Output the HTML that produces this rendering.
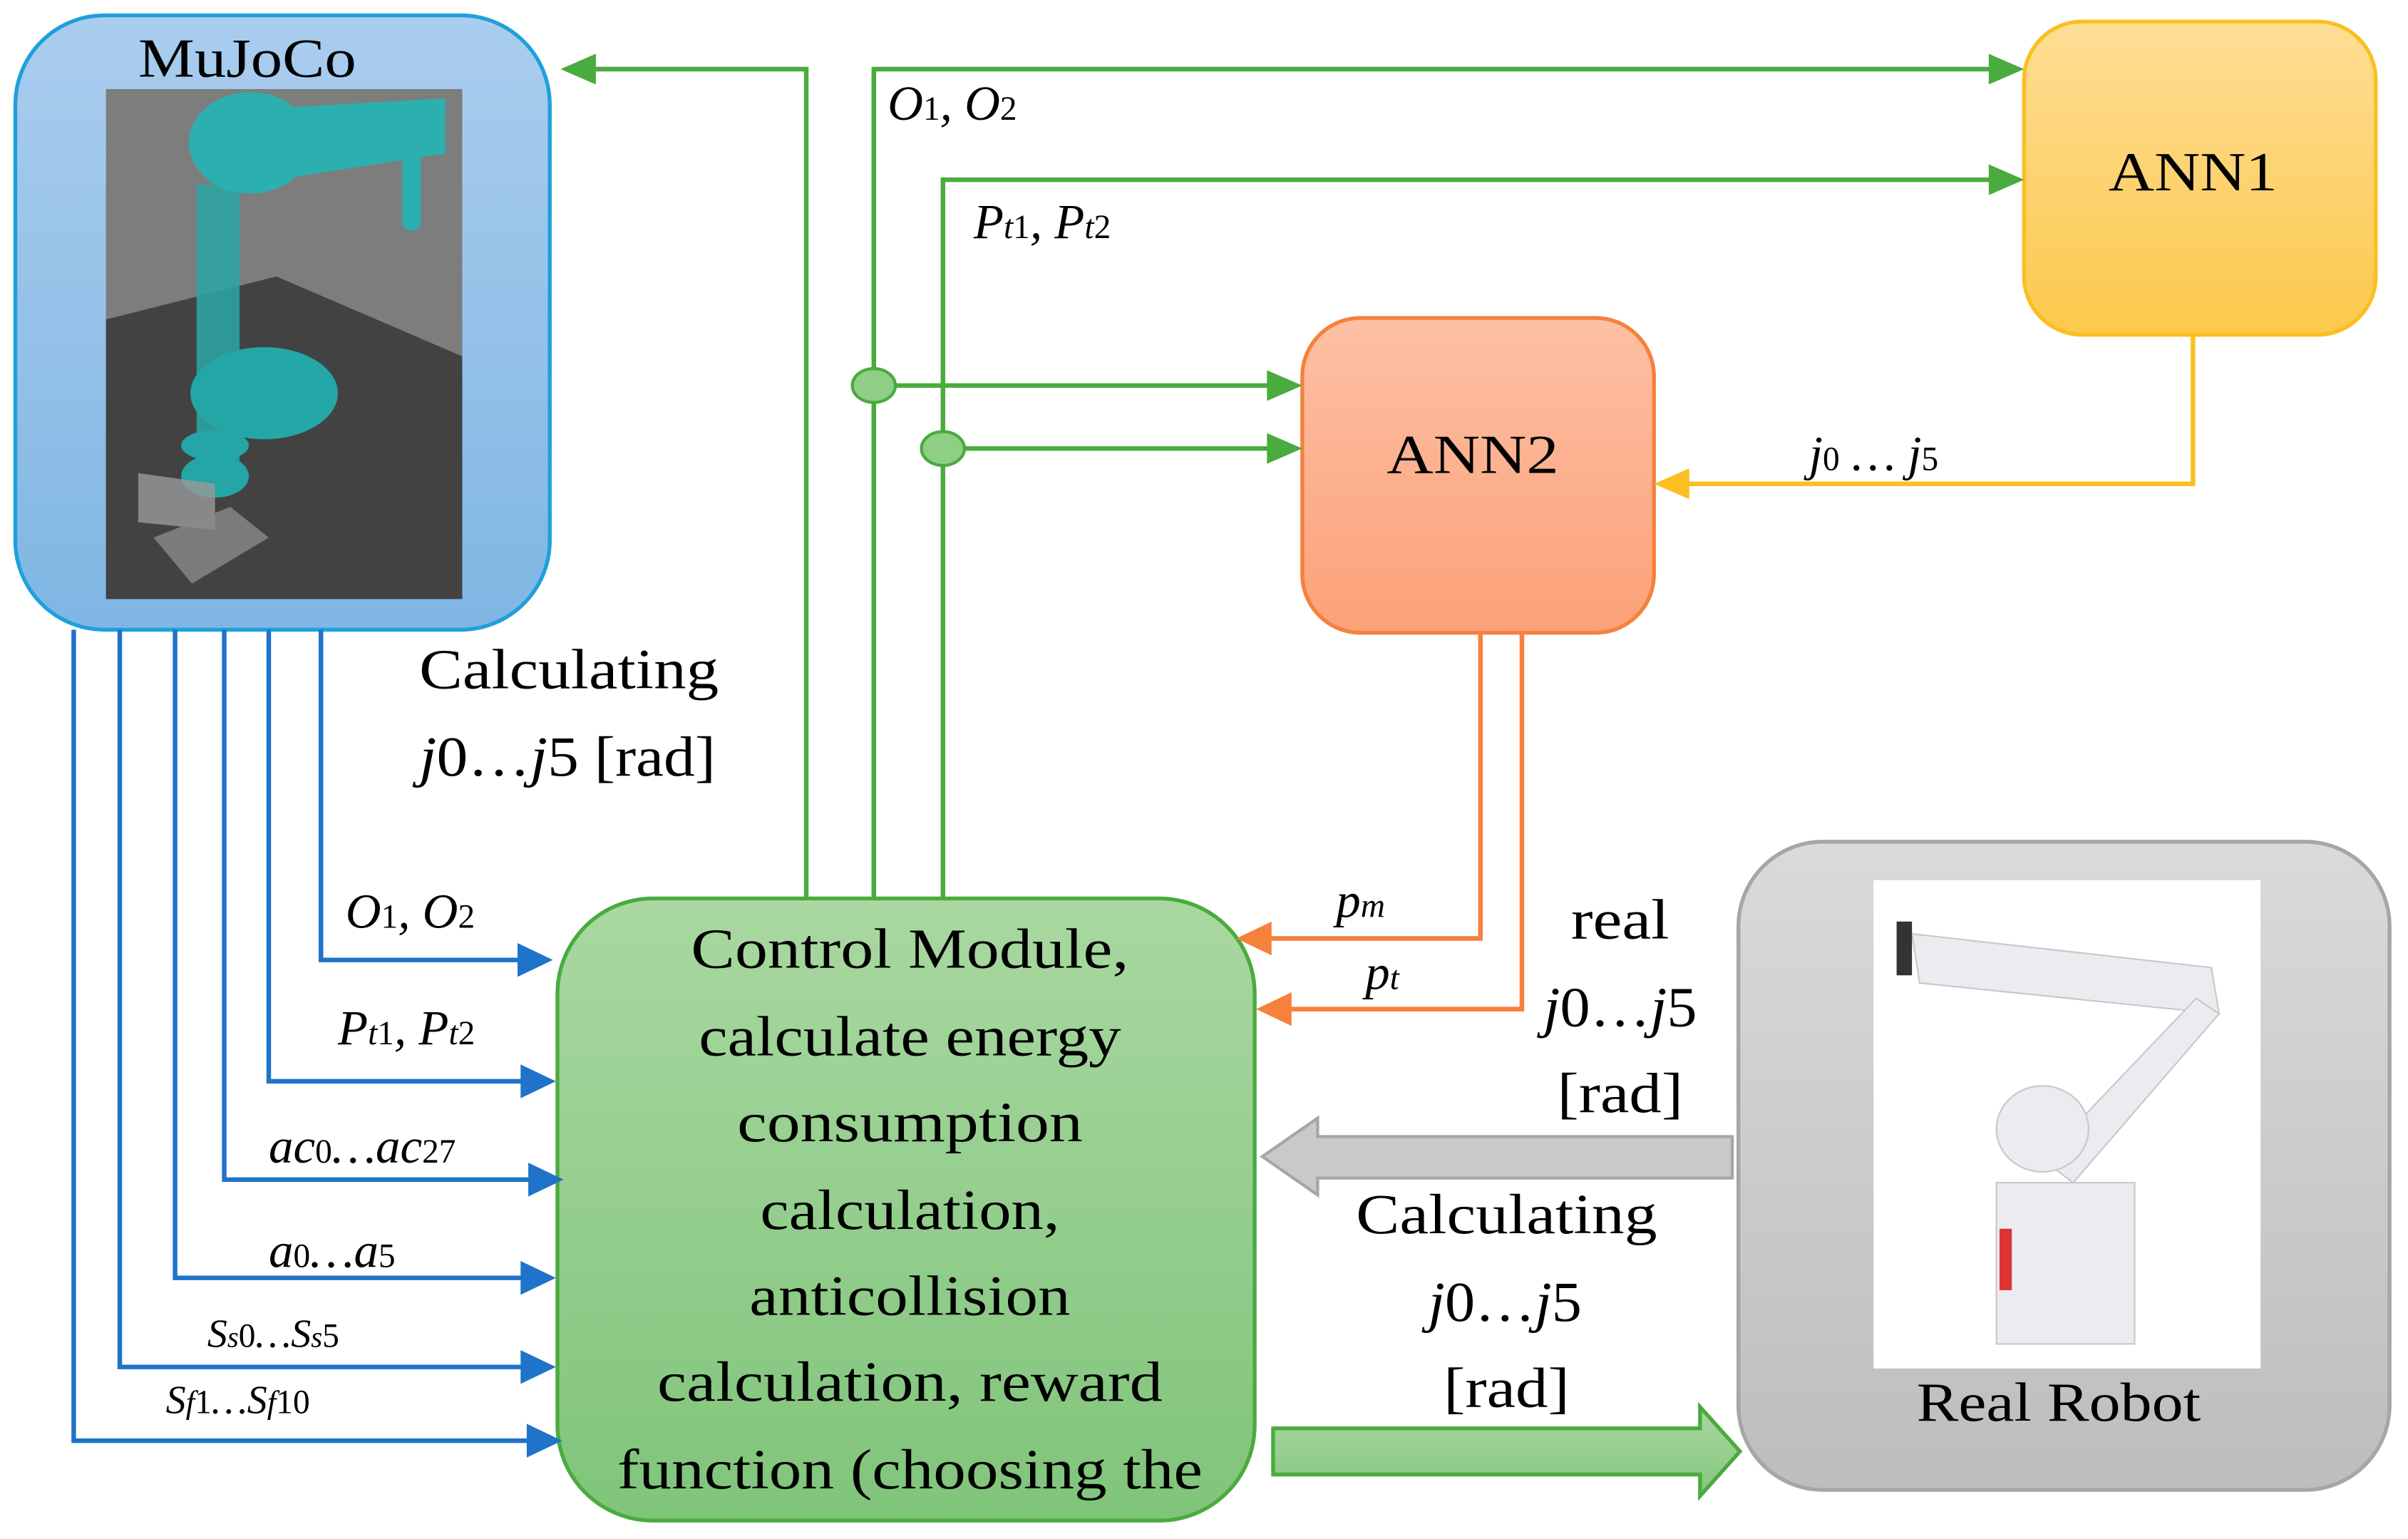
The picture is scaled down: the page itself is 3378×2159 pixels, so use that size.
<!DOCTYPE html>
<html><head><meta charset="utf-8"><style>
html,body{margin:0;padding:0;background:#fff;}
svg{display:block;}
text{font-family:"Liberation Serif",serif;fill:#000;}
</style></head><body>
<svg width="3378" height="2159" viewBox="0 0 1568 1002" preserveAspectRatio="none" xmlns="http://www.w3.org/2000/svg">
<defs>
<linearGradient id="gb" x1="0" y1="0" x2="0" y2="1"><stop offset="0" stop-color="#aacdee"/><stop offset="1" stop-color="#7fb6e3"/></linearGradient>
<linearGradient id="gy" x1="0" y1="0" x2="0" y2="1"><stop offset="0" stop-color="#fedd95"/><stop offset="1" stop-color="#fcc94c"/></linearGradient>
<linearGradient id="go" x1="0" y1="0" x2="0" y2="1"><stop offset="0" stop-color="#fdc0a4"/><stop offset="1" stop-color="#fca179"/></linearGradient>
<linearGradient id="gg" x1="0" y1="0" x2="0" y2="1"><stop offset="0" stop-color="#a9d8a1"/><stop offset="1" stop-color="#80c47a"/></linearGradient>
<linearGradient id="gr" x1="0" y1="0" x2="0" y2="1"><stop offset="0" stop-color="#dadada"/><stop offset="1" stop-color="#bdbdbd"/></linearGradient>
<linearGradient id="ga" x1="0" y1="0" x2="0" y2="1"><stop offset="0" stop-color="#a8d8a0"/><stop offset="1" stop-color="#86c67e"/></linearGradient>
</defs>

<rect x="10" y="10" width="348" height="400" rx="58" fill="url(#gb)" stroke="#1fa0dc" stroke-width="2.5"/>
<text x="90" y="50" font-size="36" textLength="142" lengthAdjust="spacingAndGlyphs">MuJoCo</text>
<rect x="69" y="58" width="232" height="332" fill="#7d7d7d"/>
<polygon points="69,208 180,180 301,232 301,390 69,390" fill="#424242"/>
<g fill="#1fb8b8" opacity="0.85">
<rect x="128" y="120" width="28" height="200" fill="#2aa7a5"/>
<ellipse cx="163" cy="93" rx="40" ry="33"/>
<polygon points="150,72 290,64 290,100 160,120"/>
<rect x="262" y="95" width="12" height="55" rx="5"/>
<ellipse cx="172" cy="256" rx="48" ry="30"/>
<ellipse cx="140" cy="290" rx="22" ry="10"/>
<ellipse cx="140" cy="310" rx="22" ry="14"/>
</g>
<polygon points="90,308 140,315 140,345 90,340" fill="#9a9a9a" opacity="0.8"/>
<polygon points="100,350 150,330 175,350 125,380" fill="#8a8a8a" opacity="0.8"/>

<rect x="1318" y="14" width="229" height="204" rx="38" fill="url(#gy)" stroke="#fbbf22" stroke-width="2.5"/>
<text x="1373" y="124" font-size="36" textLength="110" lengthAdjust="spacingAndGlyphs">ANN1</text>
<rect x="848" y="207" width="229" height="205" rx="38" fill="url(#go)" stroke="#f5813c" stroke-width="2.5"/>
<text x="903" y="308" font-size="36" textLength="112" lengthAdjust="spacingAndGlyphs">ANN2</text>
<rect x="363" y="585" width="454" height="405" rx="62" fill="url(#gg)" stroke="#4aab3e" stroke-width="2.5"/>
<g font-size="37" lengthAdjust="spacingAndGlyphs">
<text x="450" y="630" textLength="285" lengthAdjust="spacingAndGlyphs">Control Module,</text>
<text x="455" y="687" textLength="275" lengthAdjust="spacingAndGlyphs">calculate energy</text>
<text x="480" y="743" textLength="225" lengthAdjust="spacingAndGlyphs">consumption</text>
<text x="495" y="800" textLength="195" lengthAdjust="spacingAndGlyphs">calculation,</text>
<text x="488" y="856" textLength="209" lengthAdjust="spacingAndGlyphs">anticollision</text>
<text x="428" y="912" textLength="329" lengthAdjust="spacingAndGlyphs">calculation, reward</text>
<text x="402" y="969" textLength="381" lengthAdjust="spacingAndGlyphs">function (choosing the</text>
</g>
<rect x="1132" y="548" width="424" height="422" rx="55" fill="url(#gr)" stroke="#a6a6a6" stroke-width="2.5"/>
<rect x="1220" y="573" width="252" height="318" fill="#fff"/>
<g fill="#ececf0" stroke="#c8c8cc" stroke-width="1">
<polygon points="1245,608 1440,630 1445,660 1250,640"/>
<polygon points="1330,755 1430,650 1445,660 1350,770"/>
<ellipse cx="1330" cy="735" rx="30" ry="28"/>
<rect x="1300" y="770" width="90" height="105"/>
</g>
<rect x="1235" y="600" width="10" height="35" fill="#333"/>
<rect x="1302" y="800" width="8" height="40" fill="#d33"/>
<text x="1248" y="925" font-size="36" textLength="185" lengthAdjust="spacingAndGlyphs">Real Robot</text>

<g stroke="#4aab3e" stroke-width="3" fill="none">
<polyline points="525,585 525,45 385,45"/>
<polyline points="569,585 569,45 1298,45"/>
<polyline points="614,585 614,117 1298,117"/>
<line x1="569" y1="251" x2="828" y2="251"/>
<line x1="614" y1="292" x2="828" y2="292"/>
</g>
<g fill="#4aab3e">
<polygon points="365,45 388,35 388,55"/>
<polygon points="1318,45 1295,35 1295,55"/>
<polygon points="1318,117 1295,107 1295,127"/>
<polygon points="848,251 825,241 825,261"/>
<polygon points="848,292 825,282 825,302"/>
</g>
<ellipse cx="569" cy="251" rx="14" ry="11" fill="#8fcf85" stroke="#4aab3e" stroke-width="2"/>
<ellipse cx="614" cy="292" rx="14" ry="11" fill="#8fcf85" stroke="#4aab3e" stroke-width="2"/>
<text x="578" y="78" font-size="32" font-style="italic">O<tspan font-size="22" font-style="normal">1</tspan>, O<tspan font-size="22" font-style="normal">2</tspan></text>
<text x="634" y="155" font-size="32" font-style="italic">P<tspan font-size="22">t</tspan><tspan font-size="22" font-style="normal">1</tspan>, P<tspan font-size="22">t</tspan><tspan font-size="22" font-style="normal">2</tspan></text>

<polyline points="1428,218 1428,315 1097,315" stroke="#fbbf22" stroke-width="3" fill="none"/>
<polygon points="1077,315 1100,305 1100,325" fill="#fbbf22"/>
<text x="1178" y="306" font-size="32" font-style="italic">j<tspan font-size="22" font-style="normal">0</tspan> … j<tspan font-size="22" font-style="normal">5</tspan></text>

<g stroke="#f5813c" stroke-width="3" fill="none">
<polyline points="964,412 964,611 825,611"/>
<polyline points="991,412 991,657 838,657"/>
</g>
<polygon points="805,611 828,600 828,622" fill="#f5813c"/>
<polygon points="818,657 841,646 841,668" fill="#f5813c"/>
<text x="870" y="597" font-size="32" font-style="italic">p<tspan font-size="22">m</tspan></text>
<text x="889" y="644" font-size="32" font-style="italic">p<tspan font-size="22">t</tspan></text>

<g stroke="#1f73c8" stroke-width="3" fill="none">
<polyline points="209,410 209,625 340,625"/>
<polyline points="175,410 175,704 342,704"/>
<polyline points="146,410 146,768 347,768"/>
<polyline points="114,410 114,832 342,832"/>
<polyline points="78,410 78,890 342,890"/>
<polyline points="48,410 48,938 346,938"/>
</g>
<g fill="#1f73c8">
<polygon points="360,625 337,614 337,636"/>
<polygon points="362,704 339,693 339,715"/>
<polygon points="367,768 344,757 344,779"/>
<polygon points="362,832 339,821 339,843"/>
<polygon points="362,890 339,879 339,901"/>
<polygon points="366,938 343,927 343,949"/>
</g>
<g font-size="32" font-style="italic">
<text x="225" y="604">O<tspan font-size="22" font-style="normal">1</tspan>, O<tspan font-size="22" font-style="normal">2</tspan></text>
<text x="220" y="680">P<tspan font-size="22">t</tspan><tspan font-size="22" font-style="normal">1</tspan>, P<tspan font-size="22">t</tspan><tspan font-size="22" font-style="normal">2</tspan></text>
<text x="175" y="757">ac<tspan font-size="22" font-style="normal">0</tspan>…ac<tspan font-size="22" font-style="normal">27</tspan></text>
<text x="175" y="825">a<tspan font-size="22" font-style="normal">0</tspan>…a<tspan font-size="22" font-style="normal">5</tspan></text>
<text x="135" y="877" font-size="26">S<tspan font-size="19">s</tspan><tspan font-style="normal" font-size="22">0</tspan>…S<tspan font-size="19">s</tspan><tspan font-style="normal" font-size="22">5</tspan></text>
<text x="108" y="920" font-size="26">S<tspan font-size="21">f</tspan><tspan font-style="normal" font-size="22">1</tspan>…S<tspan font-size="21">f</tspan><tspan font-style="normal" font-size="22">10</tspan></text>
</g>
<text x="273" y="448" font-size="37" textLength="195" lengthAdjust="spacingAndGlyphs">Calculating</text>
<text x="273" y="505" font-size="37" textLength="193" lengthAdjust="spacingAndGlyphs"><tspan font-style="italic">j</tspan>0…<tspan font-style="italic">j</tspan>5 [rad]</text>

<g font-size="37">
<text x="1023" y="611" textLength="64" lengthAdjust="spacingAndGlyphs">real</text>
<text x="1005" y="668" textLength="100" lengthAdjust="spacingAndGlyphs"><tspan font-style="italic">j</tspan>0…<tspan font-style="italic">j</tspan>5</text>
<text x="1014" y="724" textLength="82" lengthAdjust="spacingAndGlyphs">[rad]</text>
<text x="883" y="803" textLength="196" lengthAdjust="spacingAndGlyphs">Calculating</text>
<text x="930" y="860" textLength="100" lengthAdjust="spacingAndGlyphs"><tspan font-style="italic">j</tspan>0…<tspan font-style="italic">j</tspan>5</text>
<text x="940" y="916" textLength="82" lengthAdjust="spacingAndGlyphs">[rad]</text>
</g>

<polygon points="1128,740 858,740 858,728 822,753 858,778 858,767 1128,767" fill="#c9c9c9" stroke="#a6a6a6" stroke-width="2"/>
<polygon points="829,930 1107,930 1107,916 1133,945 1107,974 1107,960 829,960" fill="url(#ga)" stroke="#4aab3e" stroke-width="2.5"/>
</svg>
</body></html>
